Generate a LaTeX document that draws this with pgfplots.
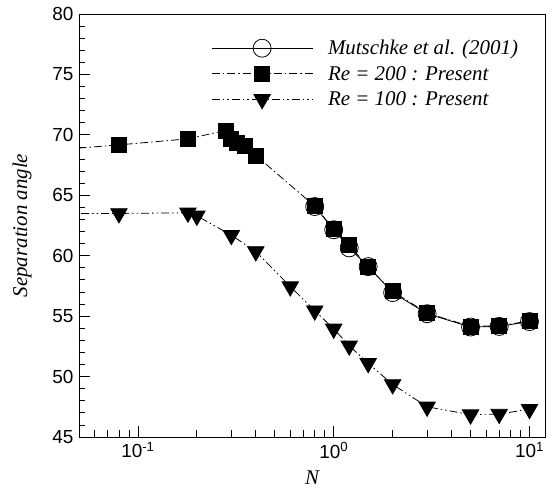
\documentclass[border=0pt]{standalone}
\usepackage{fontspec}
\setmainfont{Liberation Serif}
\setsansfont{Liberation Sans}
\usepackage{pgfplots}
\pgfplotsset{compat=1.18}
\begin{document}
\begin{tikzpicture}
\useasboundingbox (-79bp,-51bp) rectangle (473bp,437bp);
\begin{axis}[
  at={(0,0)}, anchor=south west,
  scale only axis, width=466bp, height=423bp,
  xmode=log, log basis x=10,
  xmin=0.05, xmax=12, ymin=45, ymax=80,
  xtick={0.1,1,10},
  xticklabels={10\textsuperscript{-1},10\textsuperscript{0},10\textsuperscript{1}},
  minor xtick={0.06,0.07,0.08,0.09,0.2,0.3,0.4,0.5,0.6,0.7,0.8,0.9,2,3,4,5,6,7,8,9},
  ytick={45,50,...,80},
  minor y tick num=4,
  tick pos=left, tick align=inside,
  major tick length=11bp, minor tick length=6.5bp,
  every tick/.style={black, line width=0.8bp},
  axis line style={line width=0.9bp},
  /pgf/number format/assume math mode=true,
  ticklabel style={font=\sffamily\fontsize{19}{22}\selectfont},
  yticklabel style={xshift=-2bp},
  xticklabel style={yshift=-2bp},
  xlabel={\itshape N}, ylabel={\itshape Separation angle},
  label style={font=\fontsize{21}{24}\selectfont},
  xlabel style={at={(axis description cs:0.5,-0.097)}, anchor=center},
  ylabel style={at={(axis description cs:-0.122,0.5)}, anchor=center},
  legend style={draw=none, fill=none, at={(axis description cs:0.279,0.948)}, anchor=north west,
    font=\itshape\fontsize{21}{24}\selectfont, row sep=6bp, inner sep=2bp,
    /tikz/every odd column/.append style={column sep=13bp}},
  legend cell align=left,
  legend image code/.code={\draw[mark repeat=2,mark phase=2,#1] plot coordinates {(0bp,0bp)(50.5bp,0bp)(101bp,0bp)};},
]
\addplot[black, line width=0.8bp, mark=o, mark size=9bp, mark options={solid, fill=white, line width=0.8bp}] coordinates {
(0.8,64.07) (1.0,62.15) (1.2,60.65) (1.5,59.1) (2,56.95) (3,55.2) (5,54.1) (7,54.15) (10,54.55)};
\addlegendentry{Mutschke et al. (2001)}
\addplot[black, line width=0.8bp, dash pattern=on 8bp off 3bp on 1.5bp off 3bp, mark=square*, mark size=7.5bp, mark options={solid}] coordinates {
(0.02,68.4) (0.08,69.17) (0.18,69.67) (0.28,70.36) (0.3,69.7) (0.32,69.3) (0.35,69.05) (0.4,68.3) (0.8,64.1) (1.0,62.2) (1.2,60.9) (1.5,59.05) (2,57.05) (3,55.25) (5,54.15) (7,54.2) (10,54.6)};
\addlegendentry{Re = 200 : Present}
\addplot[black, line width=0.8bp, dash pattern=on 8bp off 3bp on 1.5bp off 3bp on 1.5bp off 3bp, mark=triangle*, mark size=9.5bp, mark options={solid, rotate=180}] coordinates {
(0.02,63.5) (0.08,63.5) (0.18,63.55) (0.2,63.3) (0.3,61.7) (0.4,60.35) (0.6,57.45) (0.8,55.45) (1.0,53.95) (1.2,52.55) (1.5,51.1) (2,49.35) (3,47.5) (5,46.85) (7,46.9) (10,47.3)};
\addlegendentry{Re = 100 : Present}
\end{axis}
\end{tikzpicture}
\end{document}
